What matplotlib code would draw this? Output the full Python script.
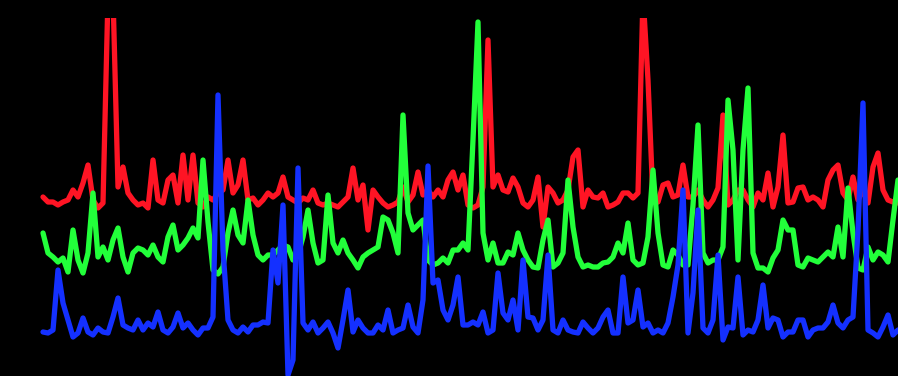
import numpy as np
import matplotlib
matplotlib.use("Agg")
import matplotlib.pyplot as plt

# three traces, one sample every step; values are depth below the top of the frame
red = [197, 202, 202, 205, 202, 200, 190, 197, 183, 165,
       200, 208, 203, -5, -5, 187, 167, 193, 200, 205,
       203, 208, 160, 200, 203, 180, 175, 203, 155, 200,
       155, 203, 207, 197, 200, 193, 190, 160, 193, 185,
       160, 200, 198, 205, 200, 193, 197, 193, 177, 197,
       200, 203, 198, 200, 190, 203, 205, 203, 205, 207,
       202, 197, 168, 200, 185, 230, 190, 197, 203, 207,
       205, 202, 187, 202, 195, 172, 195, 190, 197, 190,
       197, 180, 172, 190, 175, 205, 208, 205, 187, 40,
       187, 175, 190, 192, 178, 187, 203, 207, 200, 177,
       227, 187, 193, 203, 200, 190, 157, 150, 207, 190,
       197, 198, 193, 207, 205, 202, 193, 193, 198, 193,
       -5, 80, 200, 202, 185, 183, 197, 195, 165, 197,
       197, 190, 200, 207, 200, 188, 115, 205, 200, 190,
       190, 200, 207, 193, 200, 173, 207, 187, 135, 203,
       202, 188, 187, 200, 197, 200, 207, 180, 170, 165,
       193, 200, 177, 200, 190, 203, 167, 153, 190, 200,
       202, 203]

green = [233, 253, 257, 262, 258, 272, 230, 260, 273, 253,
         193, 257, 247, 260, 240, 228, 257, 272, 253, 248,
         250, 255, 245, 257, 262, 237, 225, 250, 245, 238,
         228, 238, 160, 222, 270, 274, 267, 233, 210, 235,
         243, 200, 235, 255, 260, 255, 255, 250, 245, 247,
         260, 255, 237, 210, 243, 263, 260, 195, 243, 253,
         240, 253, 260, 268, 257, 253, 250, 247, 217, 220,
         233, 253, 115, 213, 230, 225, 220, 260, 265, 263,
         258, 263, 250, 250, 243, 250, 140, 22, 233, 260,
         243, 263, 263, 252, 255, 233, 250, 260, 267, 268,
         240, 220, 267, 263, 253, 180, 227, 257, 267, 265,
         267, 267, 263, 262, 257, 243, 253, 223, 260, 265,
         263, 237, 170, 233, 265, 267, 250, 255, 265, 265,
         205, 125, 253, 263, 260, 260, 247, 100, 150, 260,
         150, 88, 253, 268, 268, 272, 258, 250, 220, 230,
         230, 265, 267, 258, 260, 262, 257, 252, 257, 227,
         257, 188, 233, 268, 270, 247, 260, 252, 255, 262,
         220, 180]

blue = [332, 333, 330, 270, 303, 320, 337, 333, 318, 332,
        335, 328, 332, 333, 317, 298, 325, 328, 330, 320,
        330, 323, 327, 312, 330, 333, 327, 313, 328, 323,
        330, 335, 328, 328, 317, 95, 250, 320, 330, 333,
        327, 332, 325, 325, 322, 323, 250, 283, 205, 375,
        360, 168, 323, 330, 322, 333, 328, 322, 333, 348,
        320, 290, 332, 320, 328, 333, 333, 325, 330, 310,
        333, 330, 328, 305, 327, 333, 300, 166, 283, 280,
        310, 320, 305, 277, 325, 325, 322, 325, 312, 333,
        330, 273, 313, 320, 300, 330, 260, 317, 318, 330,
        320, 255, 330, 333, 320, 330, 332, 333, 322, 328,
        333, 328, 317, 310, 333, 333, 277, 323, 320, 290,
        327, 323, 333, 330, 333, 323, 297, 265, 190, 333,
        293, 210, 328, 333, 320, 255, 340, 327, 328, 277,
        335, 330, 332, 320, 285, 328, 318, 320, 337, 332,
        332, 320, 320, 337, 330, 328, 328, 322, 305, 323,
        328, 320, 317, 230, 103, 330, 333, 337, 327, 315,
        335, 330]

colors = {"blue": "#1430ff", "green": "#22ff3a", "red": "#ff1424"}

t = np.arange(len(red))

fig = plt.figure(figsize=(8.98, 3.76), dpi=100, facecolor="black")
ax = fig.add_axes([0, 0, 1, 358 / 376])
ax.set_facecolor("black")

# red first, blue last so it sits on top
for name, series in [("red", red), ("green", green), ("blue", blue)]:
    ax.plot(t, series, color=colors[name], lw=3.8,
            solid_joinstyle="round", solid_capstyle="round")

ax.set_xlim(-8.6, 171.0)
ax.set_ylim(376, 18)
ax.axis("off")

fig.savefig("out.png", dpi=100, facecolor="black")
